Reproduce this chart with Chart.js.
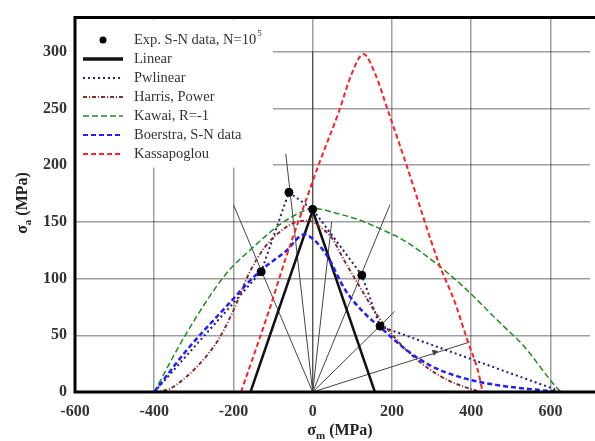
<!DOCTYPE html>
<html>
<head>
<meta charset="utf-8">
<script src="https://cdn.jsdelivr.net/npm/chart.js@4.4.1/dist/chart.umd.min.js"></script>
<style>
  body { margin: 0; background: #fff; }
</style>
</head>
<body>
<canvas id="myChart" width="595" height="441"></canvas>
<script>
// tick labels
var xTicks = [-600, -400, -200, 0, 200, 400, 600];
var yTicks = [0, 50, 100, 150, 200, 250, 300];

// experimental points, N=10^5
var expX = [-130, -60, 0, 124, 170];
var expY = [106, 176, 161, 103, 58];

// constant R lines from the origin (end points)
var rayX = [-200, -68, 0, 48, 195, 207, 396];
var rayY = [165, 210, 300, 150, 165, 71, 44];

var linearX = [-157, 0, 157];
var linearY = [0, 160, 0];

var pwlinX = [-400, -130, -60, 0, 124, 170, 630];
var pwlinY = [0, 106, 176, 161, 103, 58, 0];

var harrisX = [-400, -360, -320, -280, -240, -200, -160, -120, -80, -40, -10, 20, 48, 78, 115, 166, 207, 233, 299, 350, 383, 425];
var harrisY = [0, 3, 13, 27, 45, 72, 105, 128, 142, 150, 151, 145, 136, 117, 95, 66, 48, 38, 19, 9, 4.5, 0];

var kawaiX = [-400, -320, -219, -152, -85, -27, 0, 65, 115, 182, 233, 316, 383, 467, 534, 601, 626];
var kawaiY = [0, 51, 104, 127, 147, 159, 162, 157, 152, 142, 133, 112, 92, 63, 40, 10, 0];

var boerX = [-400, -320, -219, -135, -68, -20, 0, 15, 40, 82, 132, 174, 233, 299, 383, 467, 550, 626];
var boerY = [0, 36, 75, 106, 124, 139, 135, 130, 118, 90, 69, 56, 38, 23, 12, 6, 2.5, 0];

var kassX = [-181, -110, -68, -18, 19, 65, 99, 128, 157, 191, 233, 320, 358, 391, 417, 429];
var kassY = [0, 72, 118, 168, 204, 246, 281, 298, 281, 247, 204, 112, 80, 45, 19, 0];

// small arrow on the lowest R line
var arrowX = [308];
var arrowY = [35];

function pares(xs, ys) {
    var out = [];
    for (var i = 0; i < xs.length; i++) {
        out.push({ x: xs[i], y: ys[i] });
    }
    return out;
}

var serif = "'Liberation Serif', 'DejaVu Serif', serif";

var datasets = [];

// experimental points on top
datasets.push({
    label: 'Exp. S-N data',
    data: pares(expX, expY),
    showLine: false,
    pointRadius: 4,
    pointBackgroundColor: '#000',
    pointBorderColor: '#000'
});

datasets.push({
    label: 'Kassapoglou',
    data: pares(kassX, kassY),
    showLine: true,
    borderColor: '#ff2020',
    borderWidth: 2,
    borderDash: [5, 3],
    cubicInterpolationMode: 'monotone',
    pointRadius: 0
});

datasets.push({
    label: 'Boerstra, S-N data',
    data: pares(boerX, boerY),
    showLine: true,
    borderColor: '#2020ff',
    borderWidth: 2.5,
    borderDash: [5, 3],
    cubicInterpolationMode: 'monotone',
    pointRadius: 0
});

datasets.push({
    label: 'Kawai, R=-1',
    data: pares(kawaiX, kawaiY),
    showLine: true,
    borderColor: '#1f8f1f',
    borderWidth: 1.5,
    borderDash: [6, 3],
    cubicInterpolationMode: 'monotone',
    pointRadius: 0
});

datasets.push({
    label: 'Harris, Power',
    data: pares(harrisX, harrisY),
    showLine: true,
    borderColor: '#8b2a2a',
    borderWidth: 2,
    borderDash: [4, 2, 1, 2],
    cubicInterpolationMode: 'monotone',
    pointRadius: 0
});

datasets.push({
    label: 'Pwlinear',
    data: pares(pwlinX, pwlinY),
    showLine: true,
    borderColor: '#1c1c8a',
    borderWidth: 2,
    borderDash: [2, 3],
    pointRadius: 0
});

datasets.push({
    label: 'Linear',
    data: pares(linearX, linearY),
    showLine: true,
    borderColor: '#111',
    borderWidth: 2.5,
    pointRadius: 0
});

for (var i = 0; i < rayX.length; i++) {
    datasets.push({
        label: 'ray' + i,
        data: [{ x: 0, y: 0 }, { x: rayX[i], y: rayY[i] }],
        showLine: true,
        borderColor: '#444',
        borderWidth: 1,
        pointRadius: 0
    });
}

datasets.push({
    label: 'arrow',
    data: pares(arrowX, arrowY),
    showLine: false,
    pointStyle: 'triangle',
    pointRadius: 3,
    rotation: 72,
    pointBackgroundColor: '#444',
    pointBorderColor: '#444'
});

// legend entries (drawn by hand, white box inside the plot)
var legendItens = [
    { text: 'Exp. S-N data, N=10', sup: '5', tipo: 'ponto' },
    { text: 'Linear', cor: '#111', largura: 3.5, dash: [] },
    { text: 'Pwlinear', cor: '#1c1c8a', largura: 2, dash: [2, 3] },
    { text: 'Harris, Power', cor: '#8b2a2a', largura: 2, dash: [4, 2, 1, 2] },
    { text: 'Kawai, R=-1', cor: '#1f8f1f', largura: 1.5, dash: [6, 3] },
    { text: 'Boerstra, S-N data', cor: '#2020ff', largura: 2, dash: [5, 3] },
    { text: 'Kassapoglou', cor: '#ff2020', largura: 2, dash: [5, 3] }
];

var pluginDesenho = {
    id: 'desenho',
    afterDatasetsDraw: function (chart) {
        var ctx = chart.ctx;
        var area = chart.chartArea;
        ctx.save();

        // legend box
        ctx.fillStyle = '#fff';
        ctx.fillRect(area.left + 1, area.top + 2, 197, 148);
        var y0 = 40;
        for (var i = 0; i < legendItens.length; i++) {
            var it = legendItens[i];
            var yy = y0 + i * 19;
            if (it.tipo === 'ponto') {
                ctx.fillStyle = '#000';
                ctx.beginPath();
                ctx.arc(103, yy, 3.5, 0, Math.PI * 2);
                ctx.fill();
            } else {
                ctx.strokeStyle = it.cor;
                ctx.lineWidth = it.largura;
                ctx.setLineDash(it.dash);
                ctx.beginPath();
                ctx.moveTo(83, yy);
                ctx.lineTo(123, yy);
                ctx.stroke();
                ctx.setLineDash([]);
            }
            ctx.fillStyle = '#333';
            ctx.font = '14.5px ' + serif;
            ctx.textAlign = 'left';
            ctx.textBaseline = 'middle';
            ctx.fillText(it.text, 134, yy);
            if (it.sup) {
                var w = ctx.measureText(it.text).width;
                ctx.font = '9px ' + serif;
                ctx.fillText(it.sup, 134 + w + 1, yy - 6);
            }
        }

        // thick frame
        ctx.strokeStyle = '#000';
        ctx.lineWidth = 3;
        ctx.beginPath();
        ctx.moveTo(chart.width, area.top);
        ctx.lineTo(area.left, area.top);
        ctx.lineTo(area.left, area.bottom);
        ctx.lineTo(chart.width, area.bottom);
        ctx.stroke();

        // axis titles with subscripts
        ctx.fillStyle = '#222';
        ctx.textBaseline = 'alphabetic';
        ctx.textAlign = 'left';
        function titulo(sub, cx, cy) {
            ctx.font = 'bold 16px ' + serif;
            var w1 = ctx.measureText('\u03c3').width;
            ctx.font = 'bold 11px ' + serif;
            var w2 = ctx.measureText(sub).width;
            ctx.font = 'bold 16px ' + serif;
            var w3 = ctx.measureText(' (MPa)').width;
            var x = cx - (w1 + w2 + w3) / 2;
            ctx.fillText('\u03c3', x, cy + 5);
            ctx.font = 'bold 11px ' + serif;
            ctx.fillText(sub, x + w1, cy + 9);
            ctx.font = 'bold 16px ' + serif;
            ctx.fillText(' (MPa)', x + w1 + w2, cy + 5);
        }
        titulo('m', 340, 430);
        ctx.save();
        ctx.translate(22, 203);
        ctx.rotate(-Math.PI / 2);
        titulo('a', 0, 0);
        ctx.restore();

        ctx.restore();
    }
};

var ctx = document.getElementById('myChart');

var Grafico = new Chart(ctx, {
    type: 'scatter',
    data: { datasets: datasets },
    options: {
        responsive: false,
        animation: false,
        devicePixelRatio: 1,
        layout: { padding: { top: 15, right: 2, left: 0, bottom: 0 } },
        plugins: {
            legend: { display: false },
            tooltip: { enabled: false }
        },
        scales: {
            x: {
                type: 'linear',
                min: -600,
                max: 700,
                afterBuildTicks: function (scale) {
                    scale.ticks = xTicks.map(function (v) { return { value: v }; });
                },
                afterFit: function (scale) { scale.height = 49; },
                grid: { color: 'rgba(0,0,0,0.38)', lineWidth: 1.5, drawTicks: false },
                border: { display: false },
                ticks: {
                    color: '#333',
                    padding: 10,
                    maxRotation: 0,
                    autoSkip: false,
                    font: { family: serif, size: 16, weight: 'bold' }
                }
            },
            y: {
                type: 'linear',
                min: 0,
                max: 330,
                afterBuildTicks: function (scale) {
                    scale.ticks = yTicks.map(function (v) { return { value: v }; });
                },
                afterFit: function (scale) { scale.width = 75; },
                grid: { color: 'rgba(0,0,0,0.38)', lineWidth: 1.5, drawTicks: false },
                border: { display: false },
                ticks: {
                    color: '#333',
                    padding: 8,
                    autoSkip: false,
                    font: { family: serif, size: 16, weight: 'bold' }
                }
            }
        }
    },
    plugins: [pluginDesenho]
});
</script>
</body>
</html>
